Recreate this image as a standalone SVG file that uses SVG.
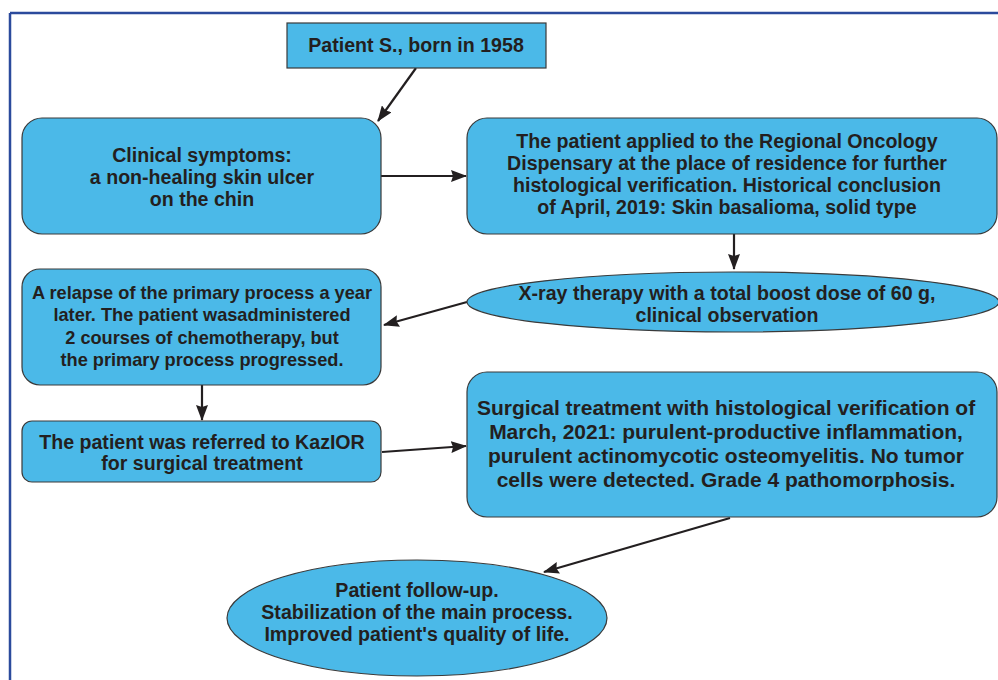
<svg xmlns="http://www.w3.org/2000/svg" width="998" height="680" viewBox="0 0 998 680">
<defs>
<marker id="ah" viewBox="0 0 16 12" refX="15" refY="6" markerWidth="16" markerHeight="12" markerUnits="userSpaceOnUse" orient="auto">
<path d="M0,0 L16,6 L0,12 L2,6 Z" fill="#231f20"/>
</marker>
<style>
.n{fill:#4bb9e8;stroke:#3a3a3a;stroke-width:1.2}
.t{font-family:"Liberation Sans",Arial,sans-serif;font-weight:bold;font-size:19.6px;fill:#231f20;text-anchor:middle}
.b{font-size:21px}
.s{font-size:18.2px}
.c{stroke:#231f20;stroke-width:2.2;fill:none;marker-end:url(#ah)}
</style>
</defs>
<rect width="998" height="680" fill="#fff"/>
<g id="frame">
<line x1="10" y1="13" x2="998" y2="13" stroke="#2b4a9c" stroke-width="2.5"/>
<line x1="10" y1="13" x2="10" y2="680" stroke="#2b4a9c" stroke-width="2.5"/>
</g>
<g id="connectors">
<line class="c" x1="416" y1="68" x2="378" y2="121"/>
<line class="c" x1="381" y1="176" x2="466" y2="176"/>
<line class="c" x1="734" y1="234" x2="734" y2="269"/>
<line class="c" x1="467" y1="302" x2="384" y2="325"/>
<line class="c" x1="202" y1="385" x2="202" y2="420"/>
<line class="c" x1="382" y1="452" x2="466" y2="446"/>
<line class="c" x1="730" y1="518" x2="544" y2="572"/>
</g>
<g id="n1">
<rect class="n" x="287" y="23" width="259" height="45"/>
<text class="t" x="416" y="52">Patient S., born in 1958</text>
</g>
<g id="n2">
<rect class="n" x="22" y="118" width="359" height="116" rx="20"/>
<text class="t" x="202" y="162">Clinical symptoms:</text>
<text class="t" x="202" y="184">a non-healing skin ulcer</text>
<text class="t" x="202" y="206">on the chin</text>
</g>
<g id="n3">
<rect class="n" x="467" y="118" width="530" height="116" rx="20"/>
<text class="t" x="727" y="148">The patient applied to the Regional Oncology</text>
<text class="t" x="727" y="170">Dispensary at the place of residence for further</text>
<text class="t" x="727" y="192">histological verification. Historical conclusion</text>
<text class="t" x="727" y="214">of April, 2019: Skin basalioma, solid type</text>
</g>
<g id="n4">
<ellipse class="n" cx="733" cy="302" rx="266" ry="30"/>
<text class="t" x="727" y="300">X-ray therapy with a total boost dose of 60 g,</text>
<text class="t" x="727" y="322">clinical observation</text>
</g>
<g id="n5">
<rect class="n" x="22" y="269" width="359" height="116" rx="18"/>
<text class="t s" x="202" y="299">A relapse of the primary process a year</text>
<text class="t s" x="202" y="321">later. The patient wasadministered</text>
<text class="t s" x="202" y="344">2 courses of chemotherapy, but</text>
<text class="t s" x="202" y="366">the primary process progressed.</text>
</g>
<g id="n6">
<rect class="n" x="22" y="421" width="359" height="61" rx="10"/>
<text class="t" x="202" y="449">The patient was referred to KazIOR</text>
<text class="t" x="202" y="470">for surgical treatment</text>
</g>
<g id="n7">
<rect class="n" x="467" y="372" width="530" height="145" rx="20"/>
<text class="t b" x="726" y="415">Surgical treatment with histological verification of</text>
<text class="t b" x="726" y="439">March, 2021: purulent-productive inflammation,</text>
<text class="t b" x="726" y="463">purulent actinomycotic osteomyelitis. No tumor</text>
<text class="t b" x="726" y="487">cells were detected. Grade 4 pathomorphosis.</text>
</g>
<g id="n8">
<ellipse class="n" cx="417" cy="618" rx="190" ry="58"/>
<text class="t" x="417" y="597">Patient follow-up.</text>
<text class="t" x="417" y="619">Stabilization of the main process.</text>
<text class="t" x="417" y="641">Improved patient's quality of life.</text>
</g>
</svg>
